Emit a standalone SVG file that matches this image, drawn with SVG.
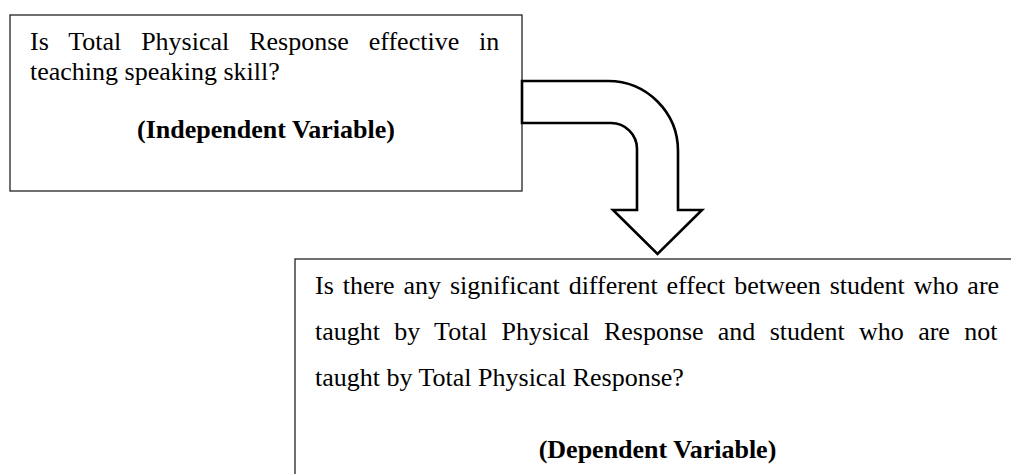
<svg xmlns="http://www.w3.org/2000/svg" width="1011" height="474" viewBox="0 0 1011 474">
  <style>
    .box { fill: #ffffff; stroke: #222222; stroke-width: 1.3; }
    .txt { font-family: "Liberation Serif", "Times New Roman", serif; font-size: 26px; fill: #000000; }
    .bold { font-weight: bold; text-anchor: middle; }
    .flow { fill: #ffffff; stroke: #000000; stroke-width: 2.6; stroke-linejoin: miter; }
  </style>
  <rect x="0" y="0" width="1011" height="474" fill="#ffffff"/>

  <!-- question about the independent variable -->
  <g id="independent-variable">
    <rect class="box" x="10" y="15" width="512" height="176"/>
    <text class="txt" x="30" y="50" word-spacing="13.4">Is Total Physical Response effective in</text>
    <text class="txt" x="30" y="80">teaching speaking skill?</text>
    <text class="txt bold" x="266" y="138">(Independent Variable)</text>
  </g>

  <!-- question about the dependent variable (box runs past the page edge) -->
  <g id="dependent-variable">
    <rect class="box" x="295" y="259" width="800" height="300"/>
    <text class="txt" x="315" y="294" word-spacing="2.4">Is there any significant different effect between student who are</text>
    <text class="txt" x="315" y="340" word-spacing="7.8">taught by Total Physical Response and student who are not</text>
    <text class="txt" x="315" y="386">taught by Total Physical Response?</text>
    <text class="txt bold" x="657.5" y="458">(Dependent Variable)</text>
  </g>

  <!-- bent block arrow linking the two questions -->
  <g id="connectors">
    <path class="flow" d="M522,81 H608 A70,70 0 0 1 678,151 V210 H702 L657.5,254 L613,210 H637 V149 A26,26 0 0 0 611,123 H522 Z"/>
  </g>
</svg>
